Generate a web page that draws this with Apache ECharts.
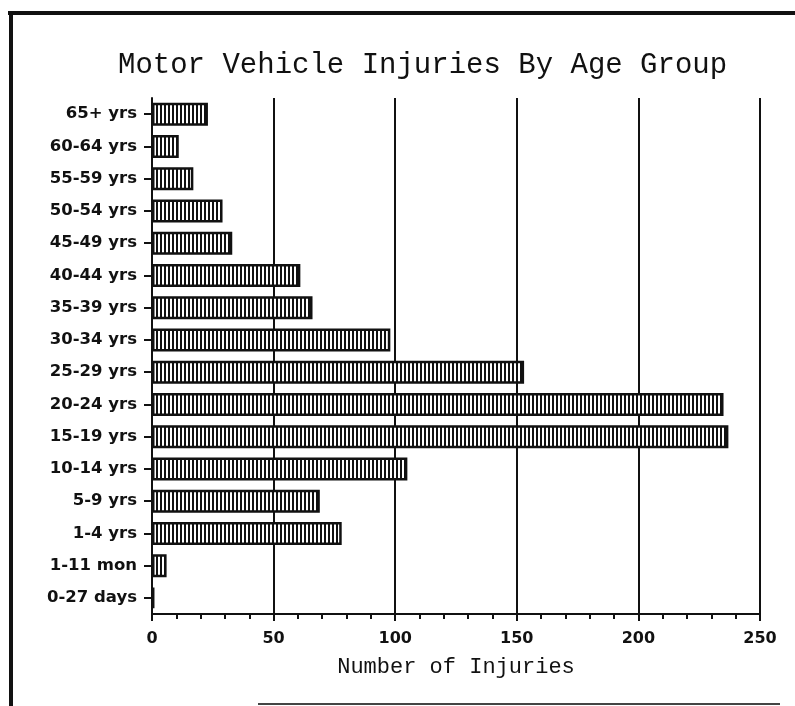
<!DOCTYPE html>
<html>
<head>
<meta charset="utf-8">
<script src="https://cdn.jsdelivr.net/npm/echarts@6/dist/echarts.min.js"></script>
<style>
  html, body { margin: 0; padding: 0; background: #fff; }
  #chart { width: 795px; height: 706px; }
</style>
</head>
<body>
<div id="chart"></div>
<script>
// age groups, top to bottom as printed
var ageGroups = ['65+ yrs', '60-64 yrs', '55-59 yrs', '50-54 yrs', '45-49 yrs', '40-44 yrs',
  '35-39 yrs', '30-34 yrs', '25-29 yrs', '20-24 yrs', '15-19 yrs', '10-14 yrs',
  '5-9 yrs', '1-4 yrs', '1-11 mon', '0-27 days'];
var injuries = [23, 11, 17, 29, 33, 61, 66, 98, 153, 235, 237, 105, 69, 78, 6, 1];
var xTicks = [0, 50, 100, 150, 200, 250];

// vertical hatch fill for the bars
var hatch = document.createElement('canvas');
hatch.width = 4;
hatch.height = 4;
var hctx = hatch.getContext('2d');
hctx.fillStyle = '#fff';
hctx.fillRect(0, 0, 4, 4);
hctx.fillStyle = '#111';
hctx.fillRect(0, 0, 2, 4);

var chart = echarts.init(document.getElementById('chart'));

var labelFont = {
  fontFamily: 'DejaVu Sans',
  fontWeight: 'bold',
  color: '#111'
};

var option = {
  backgroundColor: '#fff',
  animation: false,
  title: {
    text: 'Motor Vehicle Injuries By Age Group',
    left: 113,
    top: 46,
    textStyle: {
      fontFamily: 'Liberation Mono',
      fontSize: 29,
      fontWeight: 'normal',
      color: '#111'
    }
  },
  grid: { left: 152, right: 35, top: 98, bottom: 92 },
  xAxis: {
    type: 'value',
    min: xTicks[0],
    max: xTicks[xTicks.length - 1],
    interval: 50,
    name: 'Number of Injuries',
    nameLocation: 'middle',
    nameGap: 42,
    nameTextStyle: { fontFamily: 'Liberation Mono', fontSize: 22, color: '#111' },
    axisLine: { show: true, lineStyle: { color: '#111', width: 2 } },
    axisTick: { show: true, length: 7, lineStyle: { color: '#111', width: 2 } },
    minorTick: { show: true, splitNumber: 5, length: 5, lineStyle: { color: '#111', width: 2 } },
    axisLabel: Object.assign({ margin: 17, fontSize: 16 }, labelFont),
    splitLine: { show: true, lineStyle: { color: '#111', width: 2 } }
  },
  yAxis: {
    type: 'category',
    data: ageGroups,
    inverse: true,
    axisLine: { show: true, lineStyle: { color: '#111', width: 2 } },
    axisTick: { show: true, alignWithLabel: true, length: 8, lineStyle: { color: '#111', width: 2 } },
    axisLabel: Object.assign({ margin: 15, fontSize: 16.5 }, labelFont)
  },
  series: [{
    type: 'bar',
    data: injuries,
    barWidth: 23,
    itemStyle: {
      color: { image: hatch, repeat: 'repeat' },
      borderColor: '#111',
      borderWidth: 2.5
    }
  }],
  graphic: [
    { type: 'line', shape: { x1: 8, y1: 13, x2: 795, y2: 13 }, style: { stroke: '#111', lineWidth: 4 } },
    { type: 'line', shape: { x1: 11, y1: 11, x2: 11, y2: 706 }, style: { stroke: '#111', lineWidth: 4 } },
    { type: 'line', shape: { x1: 258, y1: 704, x2: 780, y2: 704 }, style: { stroke: '#444', lineWidth: 2 } }
  ]
};

chart.setOption(option);
</script>
</body>
</html>
